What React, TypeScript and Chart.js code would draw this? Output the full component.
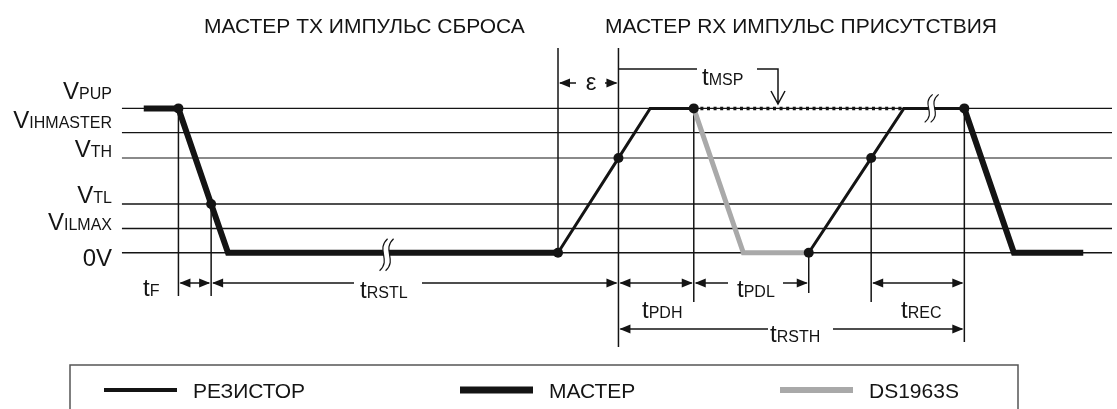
import React, { useEffect, useRef } from "react";
import { Chart, registerables } from "chart.js";

Chart.register(...registerables);

// ---- voltage levels (V) ----
const V_PUP = 5.0;
const V_IHMASTER = 4.16;
const V_TH = 3.28;
const V_TL = 1.69;
const V_ILMAX = 0.84;
const V_0 = 0;

const levelValues = [V_PUP, V_IHMASTER, V_TH, V_TL, V_ILMAX, V_0];
const levelMain = ["V", "V", "V", "V", "V", "0V"];
const levelSub = ["PUP", "IHMASTER", "TH", "TL", "ILMAX", ""];

// ---- waveform segments (time units, volts) ----
const masterResetT = [140, 175, 208, 225, 558];
const masterResetV = [V_PUP, V_PUP, V_TL, V_0, V_0];

const resistorRise1T = [558, 619, 651, 695];
const resistorRise1V = [V_0, V_TH, V_PUP, V_PUP];

const slavePresenceT = [695, 745, 811];
const slavePresenceV = [V_PUP, V_0, V_0];

const waitT = [695, 907];
const waitV = [V_PUP, V_PUP];

const resistorRise2T = [811, 874, 907, 968];
const resistorRise2V = [V_0, V_TH, V_PUP, V_PUP];

const masterNextT = [968, 1018, 1088];
const masterNextV = [V_PUP, V_0, V_0];

const markerT = [175, 208, 558, 619, 695, 811, 874, 968];
const markerV = [V_PUP, V_TL, V_0, V_TH, V_PUP, V_0, V_TH, V_PUP];

// ---- titles & legend ----
const titles = ["МАСТЕР TX ИМПУЛЬС СБРОСА", "МАСТЕР RX ИМПУЛЬС ПРИСУТСТВИЯ"];
const legendLabels = ["РЕЗИСТОР", "МАСТЕР", "DS1963S"];

const BLACK = "#141414";
const GRAY = "#a9a9a9";
const FONT = '"Liberation Sans", Arial, Helvetica, sans-serif';

const W = 1117;
const H = 409;
// pixel mapping of y-axis: 0V at 254, VPUP at 106
const PX_PER_V = (254 - 106) / V_PUP;
const Y_MAX = V_PUP + 106 / PX_PER_V;
const Y_MIN = -(H - 254) / PX_PER_V;

function pts(t: number[], v: number[]) {
  return t.map((x, i) => ({ x, y: v[i] }));
}

function subText(
  ctx: CanvasRenderingContext2D,
  main: string,
  sub: string,
  x: number,
  y: number,
  align: "left" | "right" | "center",
  mainSize = 24,
  subSize = 16
) {
  ctx.font = `${mainSize}px ${FONT}`;
  const w1 = ctx.measureText(main).width;
  ctx.font = `${subSize}px ${FONT}`;
  const w2 = sub ? ctx.measureText(sub).width : 0;
  const total = w1 + w2;
  const start = align === "left" ? x : align === "right" ? x - total : x - total / 2;
  ctx.textAlign = "left";
  ctx.textBaseline = "alphabetic";
  ctx.fillStyle = BLACK;
  ctx.font = `${mainSize}px ${FONT}`;
  ctx.fillText(main, start, y);
  if (sub) {
    ctx.font = `${subSize}px ${FONT}`;
    ctx.fillText(sub, start + w1, y);
  }
}

function head(ctx: CanvasRenderingContext2D, tipX: number, tipY: number, dir: number) {
  // dir: -1 points left, 1 points right
  const len = 11;
  const hw = 4.5;
  ctx.beginPath();
  ctx.moveTo(tipX, tipY);
  ctx.lineTo(tipX - dir * len, tipY - hw);
  ctx.lineTo(tipX - dir * len, tipY + hw);
  ctx.closePath();
  ctx.fillStyle = BLACK;
  ctx.fill();
}

function dim(
  ctx: CanvasRenderingContext2D,
  x1: number,
  x2: number,
  y: number,
  gap?: [number, number]
) {
  ctx.strokeStyle = BLACK;
  ctx.lineWidth = 1.5;
  ctx.beginPath();
  if (gap) {
    ctx.moveTo(x1 + 2, y);
    ctx.lineTo(gap[0], y);
    ctx.moveTo(gap[1], y);
    ctx.lineTo(x2 - 2, y);
  } else {
    ctx.moveTo(x1 + 2, y);
    ctx.lineTo(x2 - 2, y);
  }
  ctx.stroke();
  head(ctx, x1 + 1, y, -1);
  head(ctx, x2 - 1, y, 1);
}

function breakMark(ctx: CanvasRenderingContext2D, cx: number, y0: number, y1: number) {
  const off = 6;
  const curve = (dx: number) => {
    ctx.moveTo(cx + dx + 4, y0);
    ctx.bezierCurveTo(cx + dx - 8, y0 + (y1 - y0) * 0.35, cx + dx + 8, y0 + (y1 - y0) * 0.65, cx + dx - 4, y1);
  };
  // white band
  ctx.beginPath();
  ctx.moveTo(cx + 4, y0);
  ctx.bezierCurveTo(cx - 8, y0 + (y1 - y0) * 0.35, cx + 8, y0 + (y1 - y0) * 0.65, cx - 4, y1);
  ctx.lineTo(cx - 4 + off, y1);
  ctx.bezierCurveTo(cx + 8 + off, y0 + (y1 - y0) * 0.65, cx - 8 + off, y0 + (y1 - y0) * 0.35, cx + 4 + off, y0);
  ctx.closePath();
  ctx.fillStyle = "#ffffff";
  ctx.fill();
  ctx.beginPath();
  curve(0);
  curve(off);
  ctx.strokeStyle = BLACK;
  ctx.lineWidth = 1.2;
  ctx.stroke();
}

const annotations = {
  id: "timingAnnotations",
  beforeDatasetsDraw(chart: any) {
    const ctx: CanvasRenderingContext2D = chart.ctx;
    const xs = chart.scales.x;
    const ys = chart.scales.y;
    const X = (t: number) => xs.getPixelForValue(t);
    const Y = (v: number) => ys.getPixelForValue(v);
    ctx.save();

    // titles
    ctx.fillStyle = BLACK;
    ctx.font = `21px ${FONT}`;
    ctx.textBaseline = "alphabetic";
    ctx.textAlign = "left";
    ctx.fillText(titles[0], 204, 33);
    ctx.fillText(titles[1], 605, 33);

    // level lines
    levelValues.forEach((v, i) => {
      ctx.beginPath();
      ctx.strokeStyle = v === V_TH ? "#8a8a8a" : BLACK;
      ctx.lineWidth = v === V_TH ? 2 : 1.4;
      ctx.moveTo(X(118), Y(v));
      ctx.lineTo(X(1117), Y(v));
      ctx.stroke();
    });

    // level labels
    const baselines = [99, 128, 157, 203, 230, 266];
    levelValues.forEach((v, i) => {
      subText(ctx, levelMain[i], levelSub[i], 112, baselines[i], "right");
    });

    // vertical reference lines
    const vlines: [number, number, number][] = [
      [175, Y(V_PUP), 296],
      [208, Y(V_TL), 296],
      [558, 48, Y(V_0)],
      [619, 48, 347],
      [695, Y(V_PUP), 302],
      [811, Y(V_0), 293],
      [874, Y(V_TH), 302],
      [968, Y(V_PUP), 342],
    ];
    ctx.strokeStyle = BLACK;
    ctx.lineWidth = 1.5;
    vlines.forEach(([t, a, b]) => {
      ctx.beginPath();
      ctx.moveTo(X(t), a);
      ctx.lineTo(X(t), b);
      ctx.stroke();
    });

    // dimension arrows
    dim(ctx, X(175), X(208), 283);
    dim(ctx, X(208), X(619), 283, [354, 422]);
    dim(ctx, X(619), X(695), 283);
    dim(ctx, X(695), X(811), 283, [728, 783]);
    dim(ctx, X(874), X(968), 283);
    dim(ctx, X(619), X(968), 329, [768, 833]);
    dim(ctx, X(558), X(619), 83, [576, 605]);

    subText(ctx, "t", "F", 143, 296, "left");
    subText(ctx, "t", "RSTL", 360, 298, "left");
    subText(ctx, "t", "PDH", 642, 318, "left");
    subText(ctx, "t", "PDL", 737, 297, "left");
    subText(ctx, "t", "RSTH", 770, 342, "left");
    subText(ctx, "t", "REC", 901, 318, "left");
    subText(ctx, "t", "MSP", 702, 85, "left");
    ctx.font = `24px ${FONT}`;
    ctx.textAlign = "center";
    ctx.fillStyle = BLACK;
    ctx.fillText("ε", 591, 90);

    // tMSP bracket
    ctx.beginPath();
    ctx.strokeStyle = BLACK;
    ctx.lineWidth = 1.5;
    ctx.moveTo(X(619), 69);
    ctx.lineTo(697, 69);
    ctx.moveTo(757, 69);
    ctx.lineTo(778, 69);
    ctx.lineTo(778, 104);
    ctx.moveTo(771, 91);
    ctx.lineTo(778, 104);
    ctx.lineTo(785, 91);
    ctx.stroke();

    // legend box
    ctx.beginPath();
    ctx.strokeStyle = "#555555";
    ctx.lineWidth = 1.5;
    ctx.moveTo(70, 420);
    ctx.lineTo(70, 365);
    ctx.lineTo(1018, 365);
    ctx.lineTo(1018, 420);
    ctx.stroke();
    const legX = [104, 460, 780];
    const legColor = [BLACK, BLACK, GRAY];
    const legWidth = [4, 7, 6];
    legendLabels.forEach((lab, i) => {
      ctx.beginPath();
      ctx.strokeStyle = legColor[i];
      ctx.lineWidth = legWidth[i];
      ctx.lineCap = "butt";
      ctx.moveTo(legX[i], 390);
      ctx.lineTo(legX[i] + 73, 390);
      ctx.stroke();
      ctx.fillStyle = BLACK;
      ctx.font = `21px ${FONT}`;
      ctx.textAlign = "left";
      ctx.textBaseline = "alphabetic";
      ctx.fillText(lab, legX[i] + 89, 398);
    });

    ctx.restore();
  },
  afterDatasetsDraw(chart: any) {
    const ctx: CanvasRenderingContext2D = chart.ctx;
    const xs = chart.scales.x;
    const ys = chart.scales.y;
    ctx.save();
    breakMark(ctx, xs.getPixelForValue(382), ys.getPixelForValue(V_0) - 14, ys.getPixelForValue(V_0) + 18);
    breakMark(ctx, xs.getPixelForValue(932), ys.getPixelForValue(V_PUP) - 14, ys.getPixelForValue(V_PUP) + 14);
    // redraw markers on top of breaks is unnecessary (no overlap)
    ctx.restore();
  },
};

export default function App() {
  const ref = useRef<HTMLCanvasElement | null>(null);
  useEffect(() => {
    if (!ref.current) return;
    const line = (data: any, color: string, width: number, extra: any = {}) => ({
      type: "line",
      data,
      borderColor: color,
      borderWidth: width,
      pointRadius: 0,
      tension: 0,
      fill: false,
      borderJoinStyle: "miter",
      borderCapStyle: "butt",
      ...extra,
    });
    const chart = new Chart(ref.current, {
      type: "line",
      data: {
        datasets: [
          {
            type: "scatter",
            data: pts(markerT, markerV),
            pointRadius: 5,
            pointBackgroundColor: BLACK,
            pointBorderWidth: 0,
            showLine: false,
          } as any,
          line(pts(masterResetT, masterResetV), BLACK, 6),
          line(pts(masterNextT, masterNextV), BLACK, 6),
          line(pts(slavePresenceT, slavePresenceV), GRAY, 5),
          line(pts(resistorRise1T, resistorRise1V), BLACK, 3),
          line(pts(resistorRise2T, resistorRise2V), BLACK, 3),
          line(pts(waitT, waitV), BLACK, 3.5, { borderDash: [3, 3.6] }),
        ],
      },
      options: {
        animation: false,
        responsive: false,
        maintainAspectRatio: false,
        layout: { padding: 0 },
        parsing: false as any,
        normalized: true,
        scales: {
          x: { type: "linear", display: false, min: 0, max: W },
          y: { type: "linear", display: false, min: Y_MIN, max: Y_MAX },
        },
        plugins: { legend: { display: false }, tooltip: { enabled: false } },
        events: [],
      },
      plugins: [annotations as any],
    } as any);
    return () => chart.destroy();
  }, []);
  return (
    <div style={{ position: "fixed", left: 0, top: 0, width: W, height: H, background: "#fff" }}>
      <canvas ref={ref} width={W} height={H} style={{ width: W, height: H, display: "block" }} />
    </div>
  );
}
